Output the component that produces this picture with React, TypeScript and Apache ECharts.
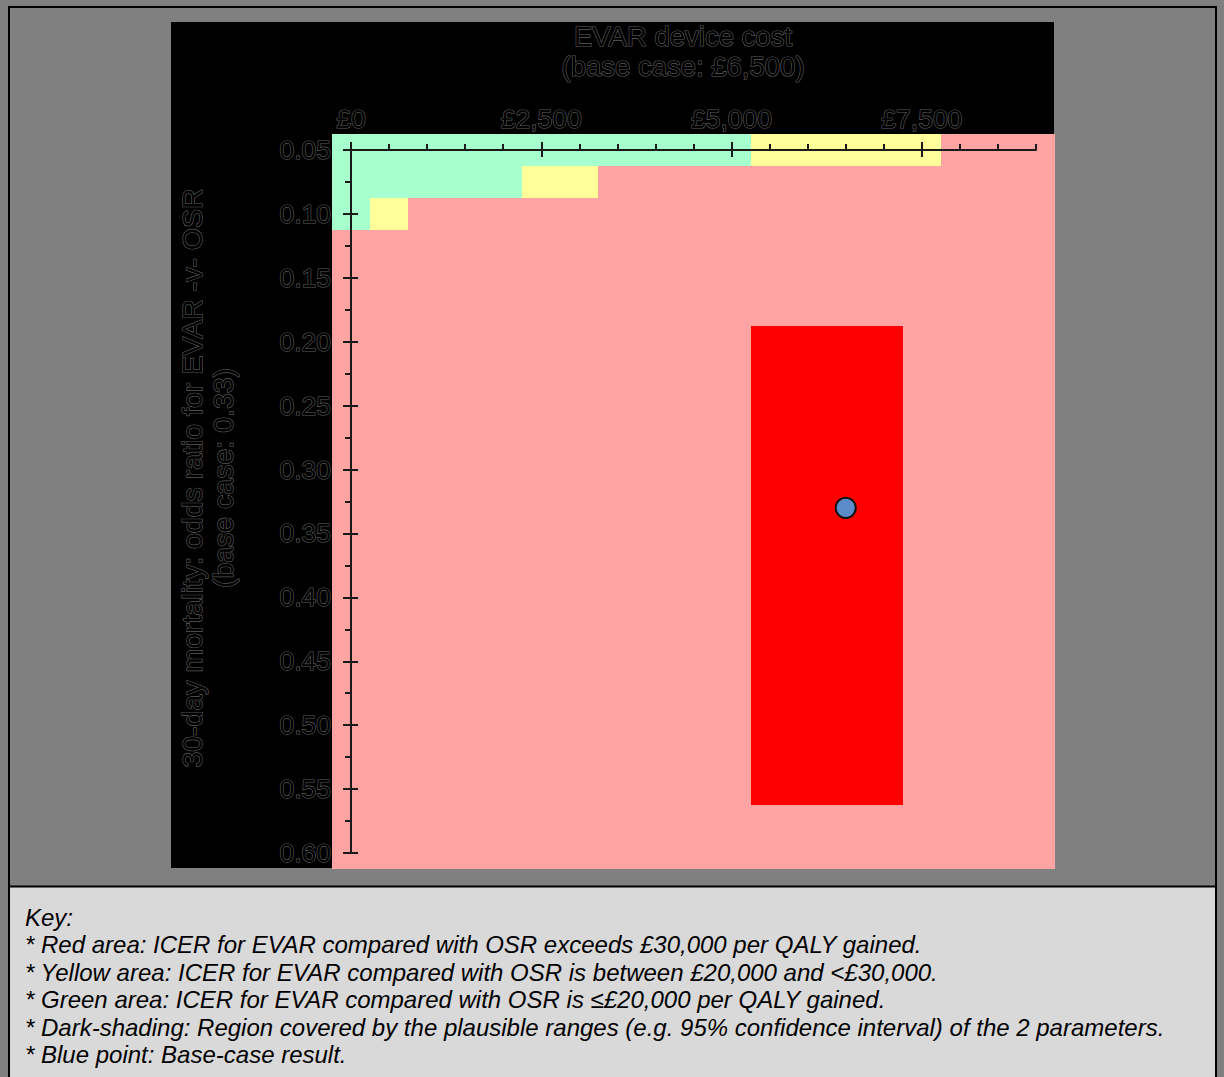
import React, { useEffect, useRef } from "react";
import * as echarts from "echarts";

// ---- Data ----
const X_CELLS = [0, 500, 1000, 1500, 2000, 2500, 3000, 3500, 4000, 4500, 5000, 5500, 6000, 6500, 7000, 7500, 8000, 8500, 9000];
const Y_CELLS = [0.05, 0.075, 0.1, 0.125, 0.15, 0.175, 0.2, 0.225, 0.25, 0.275, 0.3, 0.325, 0.35, 0.375, 0.4, 0.425, 0.45, 0.475, 0.5, 0.525, 0.55, 0.575, 0.6];
// G = ICER <= £20,000, Y = £20,000-£30,000, R = > £30,000, D = plausible-range region
const ZONE_ROWS = [
  "GGGGGGGGGGGYYYYYRRR", // 0.050
  "GGGGGYYRRRRRRRRRRRR", // 0.075
  "GYRRRRRRRRRRRRRRRRR", // 0.100
  "RRRRRRRRRRRRRRRRRRR", // 0.125
  "RRRRRRRRRRRRRRRRRRR", // 0.150
  "RRRRRRRRRRRRRRRRRRR", // 0.175
  "RRRRRRRRRRRDDDDRRRR", // 0.200
  "RRRRRRRRRRRDDDDRRRR", // 0.225
  "RRRRRRRRRRRDDDDRRRR", // 0.250
  "RRRRRRRRRRRDDDDRRRR", // 0.275
  "RRRRRRRRRRRDDDDRRRR", // 0.300
  "RRRRRRRRRRRDDDDRRRR", // 0.325
  "RRRRRRRRRRRDDDDRRRR", // 0.350
  "RRRRRRRRRRRDDDDRRRR", // 0.375
  "RRRRRRRRRRRDDDDRRRR", // 0.400
  "RRRRRRRRRRRDDDDRRRR", // 0.425
  "RRRRRRRRRRRDDDDRRRR", // 0.450
  "RRRRRRRRRRRDDDDRRRR", // 0.475
  "RRRRRRRRRRRDDDDRRRR", // 0.500
  "RRRRRRRRRRRDDDDRRRR", // 0.525
  "RRRRRRRRRRRDDDDRRRR", // 0.550
  "RRRRRRRRRRRRRRRRRRR", // 0.575
  "RRRRRRRRRRRRRRRRRRR", // 0.600
];
const BASE_CASE = [6500, 0.33];

const X_MAJOR_TICKS = [0, 2500, 5000, 7500];
const X_MINOR_TICKS = [0, 500, 1000, 1500, 2000, 2500, 3000, 3500, 4000, 4500, 5000, 5500, 6000, 6500, 7000, 7500, 8000, 8500, 9000];
const Y_MAJOR_TICKS = [0.05, 0.1, 0.15, 0.2, 0.25, 0.3, 0.35, 0.4, 0.45, 0.5, 0.55, 0.6];
const Y_MINOR_TICKS = [0.05, 0.075, 0.1, 0.125, 0.15, 0.175, 0.2, 0.225, 0.25, 0.275, 0.3, 0.325, 0.35, 0.375, 0.4, 0.425, 0.45, 0.475, 0.5, 0.525, 0.55, 0.575, 0.6];

const X_TITLE = ["EVAR device cost", "(base case: £6,500)"];
const Y_TITLE = ["30-day mortality: odds ratio for EVAR -v- OSR", "(base case: 0.33)"];
const KEY_LINES = [
  "Key:",
  "* Red area: ICER for EVAR compared with OSR exceeds £30,000 per QALY gained.",
  "* Yellow area: ICER for EVAR compared with OSR is between £20,000 and <£30,000.",
  "* Green area: ICER for EVAR compared with OSR is \u2264£20,000 per QALY gained.",
  "* Dark-shading: Region covered by the plausible ranges (e.g. 95% confidence interval) of the 2 parameters.",
  "* Blue point: Base-case result.",
];

const ZONE_CODES = ["G", "Y", "R", "D"];
const ZONE_COLORS = ["#a6ffcc", "#ffff99", "#ffa3a3", "#ff0000"];
const CELL_W = 500;
const CELL_H = 0.025;

const FONT = "'Liberation Sans', Arial, sans-serif";

function fmtPound(v: number): string {
  const s = String(Math.round(v));
  return "£" + s.replace(/\B(?=(\d{3})+(?!\d))/g, ",");
}

export default function App() {
  const ref = useRef<HTMLDivElement | null>(null);

  useEffect(() => {
    if (!ref.current) return;
    const chart = echarts.init(ref.current, undefined, { renderer: "svg" });

    const cells: number[][] = [];
    ZONE_ROWS.forEach((row, yi) => {
      for (let xi = 0; xi < row.length; xi++) {
        cells.push([X_CELLS[xi], Y_CELLS[yi], ZONE_CODES.indexOf(row[xi])]);
      }
    });

    const tickText = {
      color: "#000",
      textBorderColor: "#5e5e5e",
      textBorderWidth: 1.2,
      fontFamily: FONT,
      fontSize: 26.5,
    };
    const axisLineStyle = { color: "#1a1a1a", width: 2 };

    const gridLeft = 351;
    const gridTop = 150;
    const gridW = 685;
    const gridH = 703;

    const xAxisBase = {
      type: "value" as const,
      gridIndex: 0,
      position: "top" as const,
      min: 0,
      max: 9000,
      splitLine: { show: false },
      z: 5,
    };
    const yAxisBase = {
      type: "value" as const,
      gridIndex: 0,
      position: "left" as const,
      inverse: true,
      min: 0.05,
      max: 0.6,
      splitLine: { show: false },
      z: 5,
    };

    const option: any = {
      animation: false,
      backgroundColor: "#808080",
      grid: [{ left: gridLeft, top: gridTop, width: gridW, height: gridH, containLabel: false }],
      xAxis: [
        {
          ...xAxisBase,
          interval: 2500,
          axisLine: { show: true, lineStyle: axisLineStyle },
          axisTick: { show: true, inside: false, length: 8, lineStyle: axisLineStyle, customValues: X_MAJOR_TICKS },
          axisLabel: { show: true, margin: 18, formatter: (v: number) => fmtPound(v), customValues: X_MAJOR_TICKS, ...tickText },
        },
        {
          ...xAxisBase,
          interval: 2500,
          axisLine: { show: false },
          axisTick: { show: true, inside: true, length: 7, lineStyle: axisLineStyle, customValues: X_MAJOR_TICKS },
          axisLabel: { show: false },
        },
        {
          ...xAxisBase,
          interval: 500,
          axisLine: { show: false },
          axisTick: { show: true, inside: false, length: 6, lineStyle: axisLineStyle, customValues: X_MINOR_TICKS },
          axisLabel: { show: false },
        },
      ],
      yAxis: [
        {
          ...yAxisBase,
          interval: 0.05,
          axisLine: { show: true, lineStyle: axisLineStyle },
          axisTick: { show: true, inside: false, length: 8, lineStyle: axisLineStyle, customValues: Y_MAJOR_TICKS },
          axisLabel: { show: true, margin: 20, formatter: (v: number) => v.toFixed(2), customValues: Y_MAJOR_TICKS, ...tickText },
        },
        {
          ...yAxisBase,
          interval: 0.05,
          axisLine: { show: false },
          axisTick: { show: true, inside: true, length: 7, lineStyle: axisLineStyle, customValues: Y_MAJOR_TICKS },
          axisLabel: { show: false },
        },
        {
          ...yAxisBase,
          interval: 0.025,
          axisLine: { show: false },
          axisTick: { show: true, inside: false, length: 6, lineStyle: axisLineStyle, customValues: Y_MINOR_TICKS },
          axisLabel: { show: false },
        },
      ],
      graphic: [
        // key panel background
        { type: "rect", z: -10, shape: { x: 9, y: 887, width: 1207, height: 200 }, style: { fill: "#d9d9d9" } },
        // outer frame
        { type: "rect", z: -9, shape: { x: 9, y: 7, width: 1207, height: 1100 }, style: { fill: "none", stroke: "#000", lineWidth: 2 } },
        { type: "line", z: -9, shape: { x1: 9, y1: 886.5, x2: 1216, y2: 886.5 }, style: { stroke: "#000", lineWidth: 2 } },
        // black chart panel
        { type: "rect", z: -8, shape: { x: 171, y: 22, width: 883, height: 846 }, style: { fill: "#000" } },
        // x axis title
        {
          type: "text",
          z: 10,
          x: 683,
          y: 51,
          style: {
            text: X_TITLE.join("\n"),
            align: "center",
            verticalAlign: "middle",
            lineHeight: 30,
            fontSize: 27.5,
            fontFamily: FONT,
            fill: "#000",
            stroke: "#5e5e5e",
            lineWidth: 1.2,
          },
        },
        // y axis title
        {
          type: "text",
          z: 10,
          x: 207,
          y: 478,
          rotation: Math.PI / 2,
          style: {
            text: Y_TITLE.join("\n"),
            align: "center",
            verticalAlign: "middle",
            lineHeight: 31,
            fontSize: 28.5,
            fontFamily: FONT,
            fill: "#000",
            stroke: "#5e5e5e",
            lineWidth: 1.2,
          },
        },
        // key texts
        ...KEY_LINES.map((t, i) => ({
          type: "text",
          z: 10,
          x: 25,
          y: 917 + i * 27.5,
          style: {
            text: t,
            align: "left",
            verticalAlign: "middle",
            fontSize: 24,
            fontStyle: "italic",
            fontFamily: FONT,
            fill: "#000",
          },
        })),
      ],
      series: [
        {
          type: "custom",
          xAxisIndex: 0,
          yAxisIndex: 0,
          clip: false,
          z: 2,
          encode: { x: 0, y: 1 },
          data: cells,
          renderItem: (_params: any, api: any) => {
            const x = api.value(0);
            const y = api.value(1);
            const c = api.value(2);
            const a = api.coord([x - CELL_W / 2, y - CELL_H / 2]);
            const b = api.coord([x + CELL_W / 2, y + CELL_H / 2]);
            const x0 = Math.round(Math.min(a[0], b[0]));
            const x1 = Math.round(Math.max(a[0], b[0]));
            const y0 = Math.round(Math.min(a[1], b[1]));
            const y1 = Math.round(Math.max(a[1], b[1]));
            return {
              type: "rect",
              shape: { x: x0, y: y0, width: x1 - x0, height: y1 - y0 },
              style: { fill: ZONE_COLORS[c] },
            };
          },
        },
        {
          type: "scatter",
          xAxisIndex: 0,
          yAxisIndex: 0,
          z: 10,
          symbol: "circle",
          symbolSize: 20,
          data: [BASE_CASE],
          itemStyle: { color: "#5b8bc8", borderColor: "#111", borderWidth: 2, opacity: 1 },
        },
      ],
    };

    chart.setOption(option);
    return () => {
      chart.dispose();
    };
  }, []);

  return (
    <div
      ref={ref}
      style={{ position: "absolute", left: 0, top: 0, width: 1224, height: 1077 }}
    />
  );
}
